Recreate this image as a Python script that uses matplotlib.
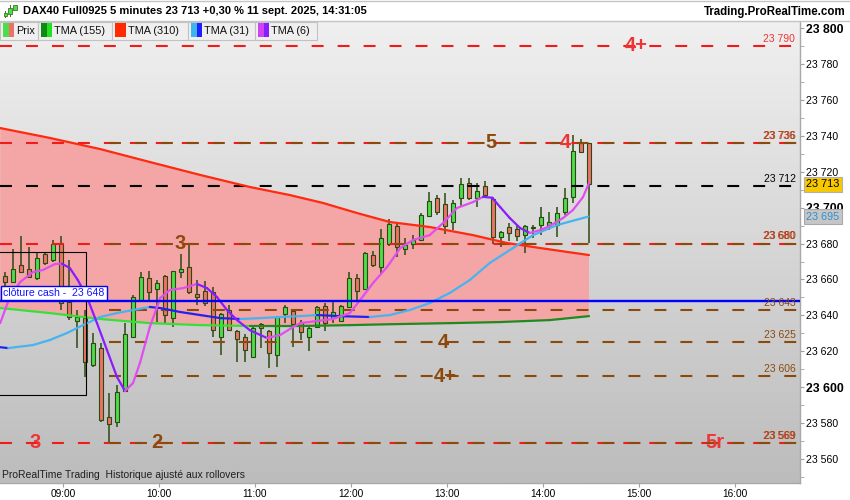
import numpy as np
import matplotlib.pyplot as plt
import matplotlib.transforms as mtransforms
from matplotlib.collections import LineCollection
from matplotlib.colors import LinearSegmentedColormap
from matplotlib.patches import Rectangle

plt.rcParams['font.family'] = ['Liberation Sans', 'DejaVu Sans']
plt.rcParams['lines.scale_dashes'] = False

## 5 minute candles, 08:25 -> 14:30
opens = [23661.9, 23658.6, 23668.0, 23665.8, 23660.8, 23674.2, 23670.8, 23680.3, 23647.4, 23636.9,
         23638.5, 23612.4, 23621.8, 23583.4, 23580.6, 23597.9, 23627.9, 23648.5, 23660.8, 23654.7,
         23661.9, 23638.5, 23664.1, 23666.9, 23651.9, 23653.6, 23653.0, 23627.9, 23643.0, 23631.3,
         23627.9, 23616.8, 23635.2, 23631.3, 23617.9, 23640.8, 23642.4, 23636.3, 23627.9, 23633.5,
         23645.2, 23638.5, 23636.9, 23644.7, 23660.8, 23654.7, 23673.6, 23666.9, 23679.7, 23689.8,
         23676.9, 23679.7, 23682.0, 23695.3, 23705.3, 23702.0, 23692.0, 23705.3, 23713.7, 23705.3,
         23712.0, 23704.8, 23683.6, 23689.2, 23688.1, 23684.7, 23688.6, 23690.3, 23690.3, 23690.3,
         23697.5, 23705.9, 23736.0, 23736.0]
highs = [23664.1, 23676.9, 23684.2, 23678.1, 23675.3, 23675.3, 23682.0, 23684.2, 23670.8, 23643.0,
         23643.0, 23630.2, 23624.6, 23596.8, 23601.2, 23635.7, 23651.3, 23664.1, 23664.7, 23659.7,
         23662.5, 23664.7, 23674.2, 23679.2, 23659.7, 23659.1, 23655.8, 23641.3, 23645.8, 23631.8,
         23629.6, 23633.5, 23636.0, 23631.8, 23639.6, 23645.8, 23643.5, 23637.4, 23633.5, 23645.2,
         23646.9, 23647.4, 23645.8, 23664.1, 23663.0, 23675.3, 23675.8, 23688.1, 23693.7, 23692.0,
         23683.1, 23684.7, 23697.0, 23708.7, 23707.0, 23708.1, 23704.2, 23716.5, 23716.5, 23713.7,
         23714.8, 23705.9, 23687.0, 23691.4, 23690.3, 23690.3, 23690.3, 23700.3, 23697.5, 23700.3,
         23710.9, 23740.4, 23738.2, 23736.0]
lows = [23656.3, 23658.0, 23663.6, 23660.8, 23659.7, 23668.0, 23669.7, 23643.0, 23637.4, 23621.8,
        23605.7, 23611.2, 23580.6, 23568.9, 23577.8, 23597.3, 23627.4, 23647.4, 23648.5, 23636.3,
        23635.7, 23633.5, 23660.8, 23651.9, 23645.8, 23645.2, 23627.9, 23617.9, 23631.3, 23614.0,
        23614.0, 23616.8, 23621.8, 23610.7, 23611.2, 23635.7, 23622.4, 23626.3, 23620.2, 23633.0,
        23631.3, 23635.7, 23636.3, 23644.1, 23648.5, 23654.1, 23666.9, 23663.0, 23678.6, 23672.5,
        23673.6, 23676.9, 23681.4, 23694.8, 23695.9, 23685.3, 23687.5, 23700.3, 23704.2, 23700.3,
        23705.9, 23679.7, 23678.1, 23681.4, 23681.4, 23674.7, 23683.1, 23684.7, 23687.5, 23683.6,
        23695.9, 23702.6, 23730.4, 23680.3]
closes = [23658.6, 23665.8, 23664.1, 23661.4, 23671.9, 23669.2, 23679.7, 23646.9, 23639.1, 23639.1,
          23614.0, 23624.6, 23581.7, 23579.5, 23597.3, 23629.6, 23650.2, 23661.4, 23653.0, 23658.0,
          23640.2, 23664.7, 23665.8, 23653.0, 23650.2, 23646.9, 23631.8, 23640.8, 23631.8, 23626.8,
          23620.7, 23633.0, 23633.0, 23619.0, 23639.1, 23644.7, 23635.2, 23630.7, 23633.0, 23644.7,
          23635.7, 23641.9, 23645.2, 23660.8, 23653.6, 23674.7, 23668.0, 23683.1, 23690.9, 23678.1,
          23679.2, 23682.0, 23695.9, 23703.7, 23697.5, 23689.8, 23702.6, 23713.1, 23705.3, 23709.2,
          23707.0, 23683.6, 23686.4, 23685.9, 23684.2, 23689.8, 23689.2, 23694.8, 23692.0, 23697.0,
          23705.3, 23731.5, 23731.0, 23713.0]

## moving averages (position in candles, price)
tma310_t = [-0.6, 5.6, 11.9, 18.1, 24.4, 30.6, 35.6, 39.75, 44.0, 48.1, 53.1, 58.5, 62.75, 66.9, 73.0]
tma310_v = [23744.3, 23738.8, 23732.6, 23725.4, 23718.2, 23711.5, 23707.0, 23702.6, 23697.0, 23692.0,
            23689.2, 23684.7, 23680.3, 23677.5, 23673.6]

tma155_t = [-0.6, 5.6, 11.9, 18.1, 24.4, 30.6, 36.9, 43.1, 49.4, 55.6, 61.9, 68.1, 73.0]
tma155_v = [23644.1, 23641.3, 23638.0, 23635.7, 23634.6, 23634.1, 23634.1, 23634.6, 23635.2, 23635.7,
            23636.3, 23637.4, 23639.6]

tma31_t = [-0.6, 0.4, 3.5, 5.6, 7.75, 9.75, 11.9, 14.0, 16.0, 18.1, 19.4, 21.9, 24.4, 26.9, 29.4, 31.9,
           34.4, 36.9, 39.0, 41.9, 45.6, 48.1, 50.6, 53.1, 55.6, 58.1, 60.6, 63.5, 66.0, 69.0, 72.9]
tma31_v = [23622.3, 23621.8, 23623.5, 23626.3, 23630.2, 23634.6, 23639.1, 23641.3, 23643.0, 23644.7,
           23644.1, 23641.9, 23640.2, 23638.5, 23638.0, 23638.5, 23639.1, 23639.6, 23640.2, 23639.6,
           23639.1, 23640.2, 23643.0, 23646.9, 23652.5, 23659.7, 23669.2, 23677.5, 23684.7, 23690.3,
           23695.0]

tma6_t = [-0.6, 0.6, 1.9, 3.5, 4.75, 6.25, 7.1, 8.1, 9.1, 10.25, 11.5, 12.75, 14.0, 15.0, 16.0, 16.9,
          18.1, 19.4, 20.6, 22.25, 24.0, 25.25, 26.5, 27.75, 29.0, 30.6, 32.75, 34.4, 36.0, 36.9, 39.0,
          41.0, 43.1, 44.4, 46.0, 47.75, 49.4, 51.0, 53.1, 54.75, 56.5, 58.5, 59.75, 60.9, 61.9, 63.1,
          64.4, 65.6, 66.9, 68.1, 69.75, 71.0, 72.25, 73.0]
tma6_v = [23635.7, 23650.2, 23658.6, 23664.1, 23665.3, 23668.6, 23668.8, 23666.4, 23659.7, 23650.2,
          23635.7, 23620.7, 23605.7, 23597.9, 23602.3, 23614.0, 23633.5, 23649.7, 23654.1, 23655.2,
          23657.5, 23655.2, 23650.2, 23643.0, 23637.4, 23631.8, 23627.4, 23629.1, 23633.5, 23635.7,
          23636.9, 23638.0, 23641.3, 23648.6, 23658.0, 23666.9, 23677.5, 23682.0, 23684.7, 23691.4,
          23699.8, 23703.1, 23706.0, 23705.5, 23700.3, 23694.2, 23688.6, 23685.9, 23687.5, 23689.8,
          23694.2, 23698.7, 23705.9, 23713.7]

## horizontal levels
red_levels = [23790, 23736, 23680, 23569]
brown_levels = [23736, 23680, 23643, 23625, 23606, 23569]
black_level = 23712
cash_close = 23648
last_price = 23713
tma31_last = 23695

## range box (opening range)
box_end = 10.1
box_hi = 23675.3
box_lo = 23595.7

## big level tags: text, level, colour key, candle position
tag_text = ['4+', '4', '3', '5r', '5', '3', '4', '4+', '2']
tag_level = [23790, 23736, 23569, 23569, 23736, 23680, 23625, 23606, 23569]
tag_kind = ['r', 'r', 'r', 'r', 'b', 'b', 'b', 'b', 'b']
tag_pos = [78.9, 70.0, 3.75, 88.75, 60.75, 21.9, 54.75, 55.0, 19.0]

hour_labels = ['09:00', '10:00', '11:00', '12:00', '13:00', '14:00', '15:00', '16:00']

title = 'DAX40 Full0925 5 minutes 23 713 +0,30 % 11 sept. 2025, 14:31:05'

RED = '#f01c1c'
RED_TXT = '#ee3535'
BROWN = '#8b4a0c'
WICK = '#2b4a10'
UP = '#4cdc4c'
DOWN = '#ec7268'

W, H = 850, 500
fig = plt.figure(figsize=(W / 100, H / 100), dpi=100)
fig.patch.set_facecolor('white')
ax = fig.add_axes([0, 17 / H, 800 / W, 462 / H])

xmin, xmax = -0.625, 99.375
ymin, ymax = 23546.7, 23803.9


def fmt(v):
    return '{:,}'.format(int(round(v))).replace(',', ' ')


def two_tone(t, v, up_col, down_col, lw=1.6, z=6):
    pts = np.column_stack([t, v])
    segs = np.stack([pts[:-1], pts[1:]], axis=1)
    cols = [up_col if b >= a else down_col for a, b in zip(v[:-1], v[1:])]
    ax.add_collection(LineCollection(segs, colors=cols, linewidths=lw,
                                     capstyle='round', joinstyle='round', zorder=z))


##background gradient
grad = LinearSegmentedColormap.from_list('bg', ['#bcbcbc', '#f0f0f0'])
ax.imshow(np.linspace(0, 1, 256).reshape(-1, 1), extent=[0, 1, 0, 1], transform=ax.transAxes,
          cmap=grad, aspect='auto', origin='lower', zorder=0)

##pink cloud between TMA 310 and TMA 155
ax.fill(np.r_[tma310_t, tma155_t[::-1]], np.r_[tma310_v, tma155_v[::-1]],
        color='#f4a6a6', lw=0, zorder=1)

##levels
dash = (8.6, 10.1)
for v in red_levels:
    ax.plot([xmin, xmax], [v, v], color=RED, lw=1.5, dashes=dash, zorder=5)
brown_start = float(np.argmin(lows))
for v in brown_levels:
    ax.plot([brown_start, xmax], [v, v], color=BROWN, lw=1.5, dashes=dash, zorder=5)
ax.plot([xmin, xmax], [black_level, black_level], color='black', lw=1.5, dashes=dash, zorder=5)
ax.axhline(cash_close, color='#0000ff', lw=1.7, zorder=7)

##candles
xs = np.arange(len(opens))
o, h, l, c = map(np.asarray, (opens, highs, lows, closes))
ax.vlines(xs, l, h, color=WICK, lw=1.1, zorder=3)
ax.bar(xs, c - o, bottom=o, width=0.6, color=np.where(c >= o, UP, DOWN),
       edgecolor=WICK, linewidth=0.8, zorder=4)

##moving averages
ax.plot(tma310_t, tma310_v, color='#ff2a10', lw=1.6, zorder=6, solid_capstyle='round')
two_tone(tma155_t, tma155_v, '#1f8a1f', '#36e036')
two_tone(tma31_t, tma31_v, '#45b4f0', '#2222f0')
two_tone(tma6_t, tma6_v, '#e04ef0', '#8a1cff')

##range box
ax.add_patch(Rectangle((xmin - 1, box_lo), box_end - xmin + 1, box_hi - box_lo,
                       fill=False, ec='black', lw=0.8, zorder=8))

blend = mtransforms.blended_transform_factory(ax.transAxes, ax.transData)

##right-hand level labels (red under brown, slightly shifted like the original)
for v in red_levels:
    ax.annotate(fmt(v), xy=(1, v), xycoords=blend, xytext=(-3.6, 1.5), textcoords='offset points',
                ha='right', va='bottom', fontsize=7.5, color=RED_TXT, zorder=9)
for v in brown_levels:
    ax.annotate(fmt(v), xy=(1, v), xycoords=blend, xytext=(-3, 1.5), textcoords='offset points',
                ha='right', va='bottom', fontsize=7.5, color=BROWN, zorder=9)
ax.annotate(fmt(black_level), xy=(1, black_level), xycoords=blend, xytext=(-3, 1.5),
            textcoords='offset points', ha='right', va='bottom', fontsize=7.5, color='black', zorder=9)

##big tags
for txt, lv, kind, pos in zip(tag_text, tag_level, tag_kind, tag_pos):
    ax.text(pos, lv, txt, ha='center', va='center', fontsize=14.5, fontweight='bold',
            color=RED_TXT if kind == 'r' else BROWN, zorder=9)

##cash close label
ax.annotate('clôture cash -  ' + fmt(cash_close), xy=(0, cash_close), xycoords=blend,
            xytext=(2.5, 2.2), textcoords='offset points', ha='left', va='bottom',
            fontsize=7.6, color='#1414ff', zorder=10,
            bbox=dict(boxstyle='square,pad=0.22', fc='white', ec='#0000ff', lw=1.0))

ax.text(0.003, 0.017, 'ProRealTime Trading  Historique ajusté aux rollovers', transform=ax.transAxes,
        ha='left', va='center', fontsize=7.5, color='#202020', zorder=9)

##axes
ax.set_xlim(xmin, xmax)
ax.set_ylim(ymin, ymax)
for s in ('left', 'top'):
    ax.spines[s].set_visible(False)
for s in ('right', 'bottom'):
    ax.spines[s].set_color('#a8a8a8')
    ax.spines[s].set_linewidth(1.0)

ax.yaxis.tick_right()
yt = np.arange(23560, 23801, 20)
ax.set_yticks(yt)
ax.set_yticklabels([fmt(v) for v in yt])
ax.set_yticks(np.arange(23550, 23800, 20), minor=True)
for lab, v in zip(ax.get_yticklabels(), yt):
    if v % 100 == 0:
        lab.set_fontweight('bold')
        lab.set_fontsize(8.8)
    else:
        lab.set_fontsize(7.6)
ax.tick_params(axis='y', which='both', direction='out', length=3, color='#a0a0a0', pad=1.5)

tick_pos = 7.25 + 12 * np.arange(len(hour_labels))
ax.set_xticks(tick_pos)
ax.set_xticklabels(hour_labels, fontsize=7.3)
ax.tick_params(axis='x', direction='out', length=3, color='#a0a0a0', pad=1.5)

##price boxes on right axis
ax.annotate(fmt(last_price), xy=(1, last_price), xycoords=blend, xytext=(4.5, 0),
            textcoords='offset points', ha='left', va='center', fontsize=7.8, color='black',
            annotation_clip=False, zorder=10,
            bbox=dict(boxstyle='square,pad=0.25', fc='#f7c800', ec='#b0b0b0', lw=0.8))
ax.annotate(fmt(tma31_last), xy=(1, tma31_last), xycoords=blend, xytext=(4.5, 0),
            textcoords='offset points', ha='left', va='center', fontsize=7.8, color='#2d8fd0',
            annotation_clip=False, zorder=10,
            bbox=dict(boxstyle='square,pad=0.25', fc='#c6c6c6', ec='#a8a8a8', lw=0.8))


##title bar and legend (figure pixels)
def prect(x0, y0, x1, y1, **kw):
    r = Rectangle((x0 / W, 1 - y1 / H), (x1 - x0) / W, (y1 - y0) / H, transform=fig.transFigure, **kw)
    fig.add_artist(r)


prect(0, 0, W, 21, fc='white', ec='none')
fig.add_artist(plt.Line2D([0, 1], [1 - 21 / H] * 2, color='#c4c4c4', lw=1, transform=fig.transFigure))
fig.add_artist(plt.Line2D([0, 1], [1 - 0.7 / H] * 2, color='#c4c4c4', lw=1, transform=fig.transFigure))

##small candle icon
prect(9.5, 5, 10.5, 17, fc='#3a7a20', ec='none')
prect(8, 8, 12, 14, fc=UP, ec='#3a7a20', lw=0.6)
prect(14.5, 3, 15.5, 13, fc='#3a7a20', ec='none')
prect(13, 5, 17, 10, fc=UP, ec='#3a7a20', lw=0.6)
prect(4.5, 11, 5.5, 18, fc='#3a7a20', ec='none')
prect(3.5, 13, 6.5, 16, fc=UP, ec='#3a7a20', lw=0.6)

fig.text(23 / W, 1 - 11.5 / H, title, ha='left', va='center', fontsize=8.0, fontweight='bold')
fig.text(846 / W, 1 - 11.5 / H, 'Trading.ProRealTime.com', ha='right', va='center',
         fontsize=8.3, fontweight='bold')

legend_items = [('Prix', (UP, DOWN)), ('TMA (155)', ('#108a10', '#22e022')),
                ('TMA (310)', ('#ff2a00', '#ff2a00')), ('TMA (31)', ('#3cb4f0', '#2020ff')),
                ('TMA (6)', ('#d044f0', '#8a1cff'))]
legend_edges = [0, 38, 112, 188, 255, 317]
for (name, cols), x0, x1 in zip(legend_items, legend_edges[:-1], legend_edges[1:]):
    prect(x0, 22, x1, 39.5, fc='#efefef', ec='#c2c2c2', lw=0.8)
    prect(x0 + 3, 23.5, x0 + 8.5, 37, fc=cols[0], ec='none')
    prect(x0 + 8.5, 23.5, x0 + 14, 37, fc=cols[1], ec='none')
    fig.text((x0 + 16) / W, 1 - 30.5 / H, name, ha='left', va='center', fontsize=7.8, color='#101010')

fig.savefig('out.png', dpi=100)
